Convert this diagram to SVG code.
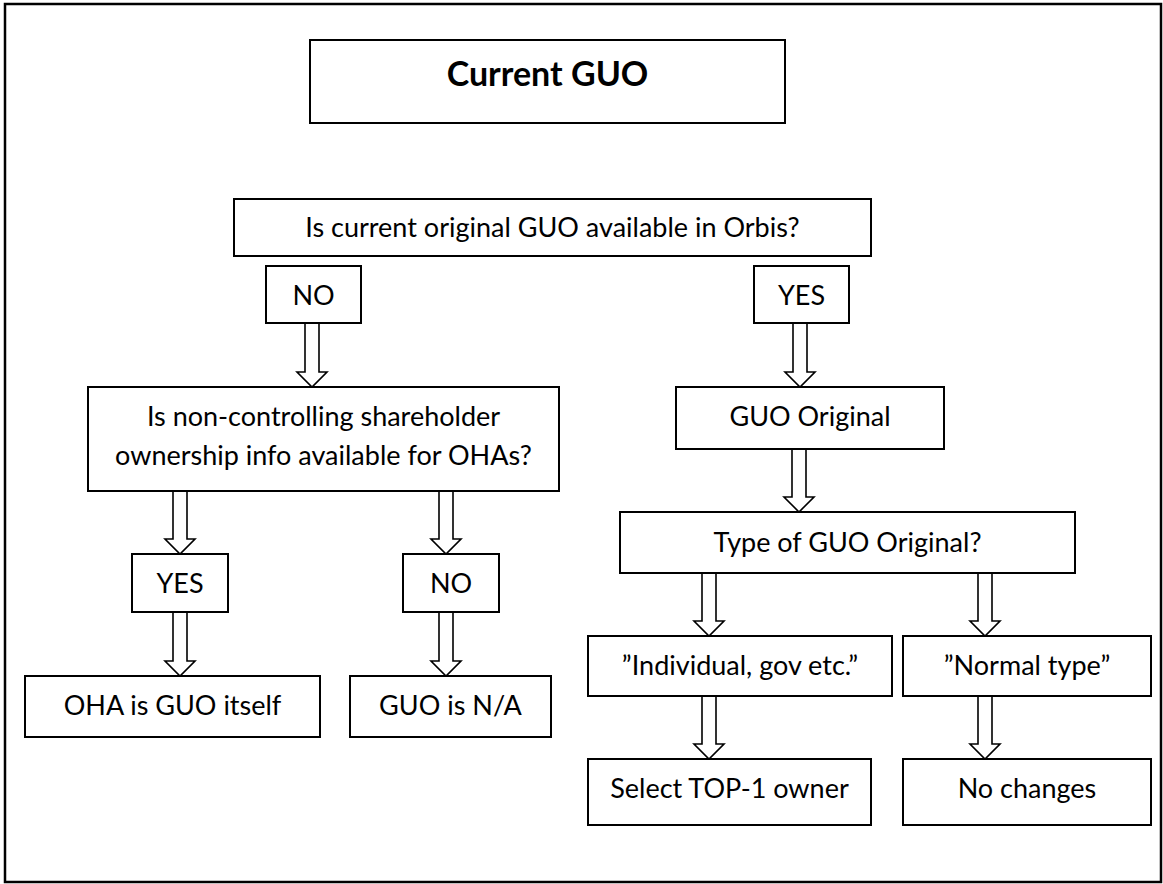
<svg xmlns="http://www.w3.org/2000/svg" width="1163" height="884" viewBox="0 0 1163 884">
<style>
.box{fill:#fff;stroke:#000;stroke-width:2}
.t{font-family:Lato,"Open Sans","Liberation Sans",sans-serif;font-size:27px;fill:#000;text-anchor:middle}
.title{font-weight:bold;font-size:34px}
.arr{fill:#fff;stroke:#000;stroke-width:1.6;stroke-linejoin:miter}
</style>
<rect x="0" y="0" width="1163" height="884" fill="#fff"/>
<rect x="5" y="4" width="1156" height="878" fill="none" stroke="#000" stroke-width="2.5"/>

<g id="connectors">
<path class="arr" d="M305,323 H319 V372 H327 L312,387 L297,372 H305 Z"/>
<path class="arr" d="M793,323 H807 V372 H815 L800,387 L785,372 H793 Z"/>
<path class="arr" d="M173,491 H187 V539 H195 L180,554 L165,539 H173 Z"/>
<path class="arr" d="M439,491 H453 V539 H461 L446,554 L431,539 H439 Z"/>
<path class="arr" d="M173,612 H187 V661 H195 L180,676 L165,661 H173 Z"/>
<path class="arr" d="M439,612 H453 V661 H461 L446,676 L431,661 H439 Z"/>
<path class="arr" d="M792,449 H806 V497 H814 L799,512 L784,497 H792 Z"/>
<path class="arr" d="M702,573 H716 V621 H724 L709,636 L694,621 H702 Z"/>
<path class="arr" d="M978,573 H992 V621 H1000 L985,636 L970,621 H978 Z"/>
<path class="arr" d="M702,696 H716 V744 H724 L709,759 L694,744 H702 Z"/>
<path class="arr" d="M978,696 H992 V744 H1000 L985,759 L970,744 H978 Z"/>
</g>

<g id="n-title"><rect class="box" x="310" y="40" width="475" height="83"/><text class="t title" x="547.5" y="86">Current GUO</text></g>
<g id="n-q1"><rect class="box" x="234" y="199" width="637" height="57"/><text class="t" x="552.5" y="237">Is current original GUO available in Orbis?</text></g>
<g id="n-no1"><rect class="box" x="266" y="266" width="95" height="57"/><text class="t" x="313.5" y="305">NO</text></g>
<g id="n-yes1"><rect class="box" x="754" y="266" width="95" height="57"/><text class="t" x="801.5" y="305">YES</text></g>
<g id="n-q2"><rect class="box" x="88" y="387" width="471" height="104"/><text class="t" x="323.5" y="426">Is non-controlling shareholder</text><text class="t" x="323.5" y="465">ownership info available for OHAs?</text></g>
<g id="n-guoorig"><rect class="box" x="676" y="387" width="268" height="62"/><text class="t" x="810" y="426">GUO Original</text></g>
<g id="n-yes2"><rect class="box" x="132" y="554" width="96" height="58"/><text class="t" x="180" y="593">YES</text></g>
<g id="n-no2"><rect class="box" x="403" y="554" width="96" height="58"/><text class="t" x="451" y="593">NO</text></g>
<g id="n-oha"><rect class="box" x="25" y="676" width="295" height="61"/><text class="t" x="172.5" y="715">OHA is GUO itself</text></g>
<g id="n-na"><rect class="box" x="350" y="676" width="201" height="61"/><text class="t" x="450.5" y="715">GUO is N/A</text></g>
<g id="n-type"><rect class="box" x="620" y="512" width="455" height="61"/><text class="t" x="847.5" y="552">Type of GUO Original?</text></g>
<g id="n-indiv"><rect class="box" x="588" y="636" width="304" height="60"/><text class="t" x="740" y="675">”Individual, gov etc.”</text></g>
<g id="n-normal"><rect class="box" x="903" y="636" width="248" height="60"/><text class="t" x="1027" y="675">”Normal type”</text></g>
<g id="n-select"><rect class="box" x="588" y="759" width="283" height="66"/><text class="t" x="729.5" y="798">Select TOP-1 owner</text></g>
<g id="n-nochg"><rect class="box" x="903" y="759" width="248" height="66"/><text class="t" x="1027" y="798">No changes</text></g>
</svg>
